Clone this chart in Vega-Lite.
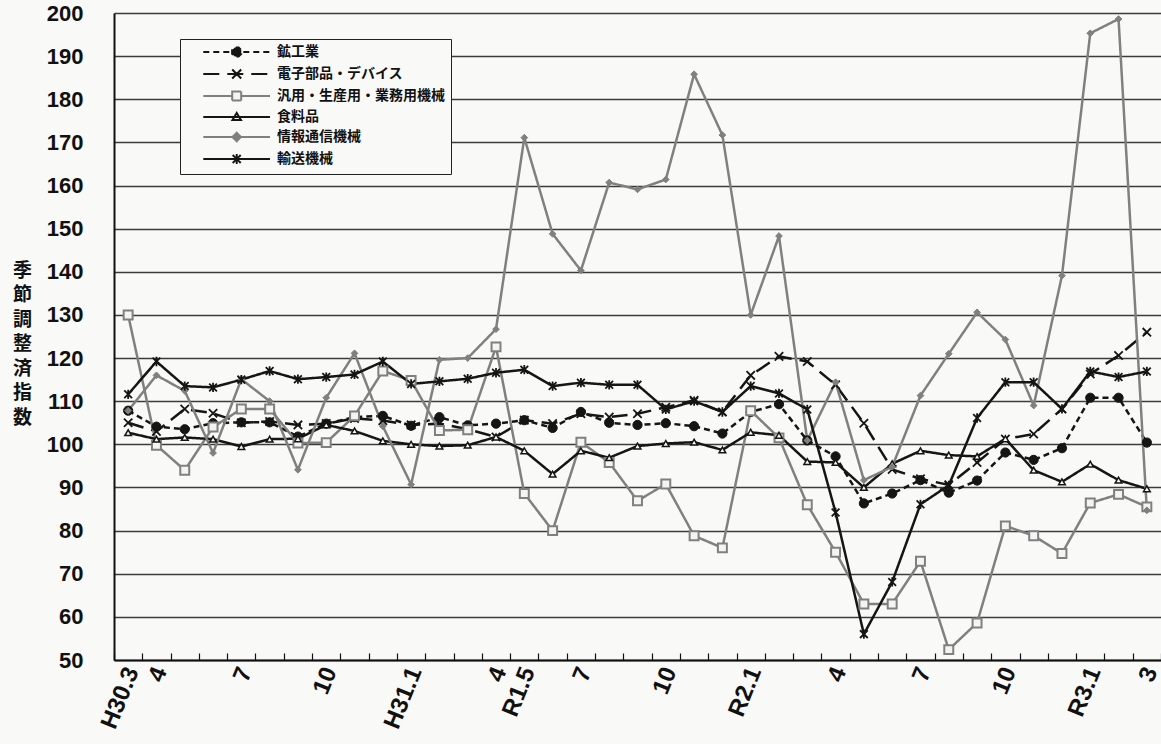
{
"$schema": "https://vega.github.io/schema/vega-lite/v6.json",
"width": 1047, "height": 647,
"autosize": {"type": "none"},
"padding": {"left": 114, "top": 13, "right": 0, "bottom": 84},
"background": "#f9f9f7",
"config": {"view": {"stroke": null}, "axis": {"labelFont": "Liberation Sans", "labelFontWeight": "bold", "labelColor": "#111"},
  "legend": {"title": null, "orient": "none", "legendX": 66, "legendY": 26, "direction": "vertical",
    "strokeColor": "#222", "fillColor": "#f9f9f7", "padding": 6, "cornerRadius": 0,
    "symbolSize": 100, "symbolStrokeWidth": 2, "symbolOpacity": 1, "symbolOffset": 0, "labelOffset": 77,
    "rowPadding": 4, "labelFont": "Noto Sans CJK JP", "labelFontSize": 14, "labelFontWeight": "bold",
    "labelColor": "#111", "labelLimit": 400}},
"datasets": {"d": [
{"s":"鉱工業","i":0,"v":107.8},{"s":"鉱工業","i":1,"v":104.1},{"s":"鉱工業","i":2,"v":103.5},{"s":"鉱工業","i":3,"v":104.9},{"s":"鉱工業","i":4,"v":105.1},{"s":"鉱工業","i":5,"v":105.1},{"s":"鉱工業","i":6,"v":101.8},{"s":"鉱工業","i":7,"v":104.8},{"s":"鉱工業","i":8,"v":106.3},{"s":"鉱工業","i":9,"v":106.6},{"s":"鉱工業","i":10,"v":104.3},{"s":"鉱工業","i":11,"v":106.3},{"s":"鉱工業","i":12,"v":104.4},{"s":"鉱工業","i":13,"v":104.8},{"s":"鉱工業","i":14,"v":105.6},{"s":"鉱工業","i":15,"v":103.8},{"s":"鉱工業","i":16,"v":107.5},{"s":"鉱工業","i":17,"v":105.0},{"s":"鉱工業","i":18,"v":104.5},{"s":"鉱工業","i":19,"v":104.9},{"s":"鉱工業","i":20,"v":104.2},{"s":"鉱工業","i":21,"v":102.5},{"s":"鉱工業","i":22,"v":107.5},{"s":"鉱工業","i":23,"v":109.3},{"s":"鉱工業","i":24,"v":100.9},{"s":"鉱工業","i":25,"v":97.2},{"s":"鉱工業","i":26,"v":86.3},{"s":"鉱工業","i":27,"v":88.6},{"s":"鉱工業","i":28,"v":91.7},{"s":"鉱工業","i":29,"v":88.8},{"s":"鉱工業","i":30,"v":91.6},{"s":"鉱工業","i":31,"v":98.1},{"s":"鉱工業","i":32,"v":96.4},{"s":"鉱工業","i":33,"v":99.1},{"s":"鉱工業","i":34,"v":110.8},{"s":"鉱工業","i":35,"v":110.8},{"s":"鉱工業","i":36,"v":100.4},
{"s":"電子部品・デバイス","i":0,"v":105.0},{"s":"電子部品・デバイス","i":1,"v":103.0},{"s":"電子部品・デバイス","i":2,"v":108.2},{"s":"電子部品・デバイス","i":3,"v":107.2},{"s":"電子部品・デバイス","i":4,"v":105.0},{"s":"電子部品・デバイス","i":5,"v":105.3},{"s":"電子部品・デバイス","i":6,"v":104.5},{"s":"電子部品・デバイス","i":7,"v":104.8},{"s":"電子部品・デバイス","i":8,"v":106.0},{"s":"電子部品・デバイス","i":9,"v":105.5},{"s":"電子部品・デバイス","i":10,"v":104.5},{"s":"電子部品・デバイス","i":11,"v":104.8},{"s":"電子部品・デバイス","i":12,"v":103.5},{"s":"電子部品・デバイス","i":13,"v":101.7},{"s":"電子部品・デバイス","i":14,"v":105.6},{"s":"電子部品・デバイス","i":15,"v":104.8},{"s":"電子部品・デバイス","i":16,"v":107.1},{"s":"電子部品・デバイス","i":17,"v":106.3},{"s":"電子部品・デバイス","i":18,"v":107.1},{"s":"電子部品・デバイス","i":19,"v":108.6},{"s":"電子部品・デバイス","i":20,"v":110.2},{"s":"電子部品・デバイス","i":21,"v":107.5},{"s":"電子部品・デバイス","i":22,"v":116.0},{"s":"電子部品・デバイス","i":23,"v":120.4},{"s":"電子部品・デバイス","i":24,"v":119.2},{"s":"電子部品・デバイス","i":25,"v":113.8},{"s":"電子部品・デバイス","i":26,"v":104.9},{"s":"電子部品・デバイス","i":27,"v":94.2},{"s":"電子部品・デバイス","i":28,"v":92.0},{"s":"電子部品・デバイス","i":29,"v":90.6},{"s":"電子部品・デバイス","i":30,"v":95.8},{"s":"電子部品・デバイス","i":31,"v":101.2},{"s":"電子部品・デバイス","i":32,"v":102.4},{"s":"電子部品・デバイス","i":33,"v":108.2},{"s":"電子部品・デバイス","i":34,"v":116.3},{"s":"電子部品・デバイス","i":35,"v":120.6},{"s":"電子部品・デバイス","i":36,"v":126.0},
{"s":"汎用・生産用・業務用機械","i":0,"v":130.0},{"s":"汎用・生産用・業務用機械","i":1,"v":99.8},{"s":"汎用・生産用・業務用機械","i":2,"v":94.0},{"s":"汎用・生産用・業務用機械","i":3,"v":104.0},{"s":"汎用・生産用・業務用機械","i":4,"v":108.2},{"s":"汎用・生産用・業務用機械","i":5,"v":108.2},{"s":"汎用・生産用・業務用機械","i":6,"v":100.3},{"s":"汎用・生産用・業務用機械","i":7,"v":100.4},{"s":"汎用・生産用・業務用機械","i":8,"v":106.6},{"s":"汎用・生産用・業務用機械","i":9,"v":117.0},{"s":"汎用・生産用・業務用機械","i":10,"v":114.8},{"s":"汎用・生産用・業務用機械","i":11,"v":103.2},{"s":"汎用・生産用・業務用機械","i":12,"v":103.4},{"s":"汎用・生産用・業務用機械","i":13,"v":122.6},{"s":"汎用・生産用・業務用機械","i":14,"v":88.6},{"s":"汎用・生産用・業務用機械","i":15,"v":80.0},{"s":"汎用・生産用・業務用機械","i":16,"v":100.5},{"s":"汎用・生産用・業務用機械","i":17,"v":95.8},{"s":"汎用・生産用・業務用機械","i":18,"v":86.9},{"s":"汎用・生産用・業務用機械","i":19,"v":90.8},{"s":"汎用・生産用・業務用機械","i":20,"v":78.8},{"s":"汎用・生産用・業務用機械","i":21,"v":76.0},{"s":"汎用・生産用・業務用機械","i":22,"v":107.8},{"s":"汎用・生産用・業務用機械","i":23,"v":101.5},{"s":"汎用・生産用・業務用機械","i":24,"v":86.0},{"s":"汎用・生産用・業務用機械","i":25,"v":75.0},{"s":"汎用・生産用・業務用機械","i":26,"v":63.0},{"s":"汎用・生産用・業務用機械","i":27,"v":63.0},{"s":"汎用・生産用・業務用機械","i":28,"v":72.9},{"s":"汎用・生産用・業務用機械","i":29,"v":52.4},{"s":"汎用・生産用・業務用機械","i":30,"v":58.6},{"s":"汎用・生産用・業務用機械","i":31,"v":81.1},{"s":"汎用・生産用・業務用機械","i":32,"v":78.8},{"s":"汎用・生産用・業務用機械","i":33,"v":74.7},{"s":"汎用・生産用・業務用機械","i":34,"v":86.4},{"s":"汎用・生産用・業務用機械","i":35,"v":88.4},{"s":"汎用・生産用・業務用機械","i":36,"v":85.5},
{"s":"食料品","i":0,"v":102.7},{"s":"食料品","i":1,"v":101.2},{"s":"食料品","i":2,"v":101.6},{"s":"食料品","i":3,"v":101.2},{"s":"食料品","i":4,"v":99.5},{"s":"食料品","i":5,"v":101.2},{"s":"食料品","i":6,"v":101.3},{"s":"食料品","i":7,"v":104.5},{"s":"食料品","i":8,"v":103.1},{"s":"食料品","i":9,"v":100.8},{"s":"食料品","i":10,"v":100.0},{"s":"食料品","i":11,"v":99.6},{"s":"食料品","i":12,"v":99.8},{"s":"食料品","i":13,"v":101.7},{"s":"食料品","i":14,"v":98.5},{"s":"食料品","i":15,"v":93.1},{"s":"食料品","i":16,"v":98.5},{"s":"食料品","i":17,"v":96.9},{"s":"食料品","i":18,"v":99.6},{"s":"食料品","i":19,"v":100.2},{"s":"食料品","i":20,"v":100.5},{"s":"食料品","i":21,"v":98.7},{"s":"食料品","i":22,"v":102.8},{"s":"食料品","i":23,"v":102.1},{"s":"食料品","i":24,"v":96.0},{"s":"食料品","i":25,"v":95.8},{"s":"食料品","i":26,"v":90.0},{"s":"食料品","i":27,"v":95.5},{"s":"食料品","i":28,"v":98.5},{"s":"食料品","i":29,"v":97.5},{"s":"食料品","i":30,"v":97.2},{"s":"食料品","i":31,"v":101.3},{"s":"食料品","i":32,"v":94.0},{"s":"食料品","i":33,"v":91.3},{"s":"食料品","i":34,"v":95.4},{"s":"食料品","i":35,"v":91.7},{"s":"食料品","i":36,"v":89.7},
{"s":"情報通信機械","i":0,"v":107.8},{"s":"情報通信機械","i":1,"v":116.0},{"s":"情報通信機械","i":2,"v":112.4},{"s":"情報通信機械","i":3,"v":98.0},{"s":"情報通信機械","i":4,"v":115.1},{"s":"情報通信機械","i":5,"v":110.0},{"s":"情報通信機械","i":6,"v":94.1},{"s":"情報通信機械","i":7,"v":110.8},{"s":"情報通信機械","i":8,"v":121.1},{"s":"情報通信機械","i":9,"v":104.2},{"s":"情報通信機械","i":10,"v":90.7},{"s":"情報通信機械","i":11,"v":119.6},{"s":"情報通信機械","i":12,"v":120.0},{"s":"情報通信機械","i":13,"v":126.7},{"s":"情報通信機械","i":14,"v":171.1},{"s":"情報通信機械","i":15,"v":148.8},{"s":"情報通信機械","i":16,"v":140.3},{"s":"情報通信機械","i":17,"v":160.7},{"s":"情報通信機械","i":18,"v":159.1},{"s":"情報通信機械","i":19,"v":161.4},{"s":"情報通信機械","i":20,"v":185.8},{"s":"情報通信機械","i":21,"v":171.7},{"s":"情報通信機械","i":22,"v":130.0},{"s":"情報通信機械","i":23,"v":148.3},{"s":"情報通信機械","i":24,"v":100.9},{"s":"情報通信機械","i":25,"v":114.4},{"s":"情報通信機械","i":26,"v":91.7},{"s":"情報通信機械","i":27,"v":94.8},{"s":"情報通信機械","i":28,"v":111.3},{"s":"情報通信機械","i":29,"v":121.0},{"s":"情報通信機械","i":30,"v":130.6},{"s":"情報通信機械","i":31,"v":124.3},{"s":"情報通信機械","i":32,"v":109.0},{"s":"情報通信機械","i":33,"v":139.1},{"s":"情報通信機械","i":34,"v":195.3},{"s":"情報通信機械","i":35,"v":198.6},{"s":"情報通信機械","i":36,"v":84.7},
{"s":"輸送機械","i":0,"v":111.6},{"s":"輸送機械","i":1,"v":119.2},{"s":"輸送機械","i":2,"v":113.5},{"s":"輸送機械","i":3,"v":113.2},{"s":"輸送機械","i":4,"v":115.0},{"s":"輸送機械","i":5,"v":117.0},{"s":"輸送機械","i":6,"v":115.1},{"s":"輸送機械","i":7,"v":115.6},{"s":"輸送機械","i":8,"v":116.2},{"s":"輸送機械","i":9,"v":119.2},{"s":"輸送機械","i":10,"v":114.0},{"s":"輸送機械","i":11,"v":114.6},{"s":"輸送機械","i":12,"v":115.2},{"s":"輸送機械","i":13,"v":116.6},{"s":"輸送機械","i":14,"v":117.3},{"s":"輸送機械","i":15,"v":113.5},{"s":"輸送機械","i":16,"v":114.3},{"s":"輸送機械","i":17,"v":113.8},{"s":"輸送機械","i":18,"v":113.8},{"s":"輸送機械","i":19,"v":108.1},{"s":"輸送機械","i":20,"v":110.0},{"s":"輸送機械","i":21,"v":107.5},{"s":"輸送機械","i":22,"v":113.5},{"s":"輸送機械","i":23,"v":111.8},{"s":"輸送機械","i":24,"v":108.1},{"s":"輸送機械","i":25,"v":84.2},{"s":"輸送機械","i":26,"v":56.0},{"s":"輸送機械","i":27,"v":68.1},{"s":"輸送機械","i":28,"v":86.1},{"s":"輸送機械","i":29,"v":90.5},{"s":"輸送機械","i":30,"v":106.1},{"s":"輸送機械","i":31,"v":114.4},{"s":"輸送機械","i":32,"v":114.4},{"s":"輸送機械","i":33,"v":108.2},{"s":"輸送機械","i":34,"v":116.9},{"s":"輸送機械","i":35,"v":115.6},{"s":"輸送機械","i":36,"v":116.9}
]},
"data": {"name": "d"},
"encoding": {
  "x": {"field": "i", "type": "quantitative",
    "scale": {"domain": [-0.5, 36.5], "nice": false, "zero": false},
    "axis": {"values": [-0.5,0.5,1.5,2.5,3.5,4.5,5.5,6.5,7.5,8.5,9.5,10.5,11.5,12.5,13.5,14.5,15.5,16.5,17.5,18.5,19.5,20.5,21.5,22.5,23.5,24.5,25.5,26.5,27.5,28.5,29.5,30.5,31.5,32.5,33.5,34.5,35.5,36.5],
      "labelExpr": "(['H30.3','4','','','7','','','10','','','H31.1','','','4','R1.5','','7','','','10','','','R2.1','','','4','','','7','','','10','','','R3.1','','3'][datum.value+0.5])||''",
      "grid": false, "domainColor": "#111", "domainWidth": 2, "zindex": 1,
      "ticks": true, "tickSize": -7, "tickColor": "#111", "tickWidth": 1.2, "title": null,
      "labelAngle": -68, "labelAlign": "right", "labelBaseline": "middle",
      "labelPadding": 15, "labelOffset": 18, "labelFontSize": 24,
      "labelOverlap": false, "labelFlush": false, "labelBound": false}},
  "y": {"field": "v", "type": "quantitative",
    "scale": {"domain": [50, 200], "nice": false, "zero": false},
    "axis": {"values": [50,60,70,80,90,100,110,120,130,140,150,160,170,180,190,200],
      "labelFontSize": 22, "labelPadding": 31, "ticks": false,
      "domainColor": "#111", "domainWidth": 2,
      "grid": true, "gridColor": "#3c3c3c", "gridWidth": 1.3,
      "title": ["季","節","調","整","済","指","数"],
      "titleAngle": 0, "titleAlign": "center", "titleBaseline": "middle",
      "titleX": -92, "titleY": 257, "titleFont": "Noto Sans CJK JP", "titleFontWeight": "bold",
      "titleFontSize": 19, "titleLineHeight": 24.5, "titleColor": "#111"}}
},
"layer": [
  {"mark": {"type": "line", "strokeWidth": 2.5},
   "encoding": {
     "stroke": {"field": "s", "type": "nominal", "title": null,
       "scale": {"domain": ["鉱工業","電子部品・デバイス","汎用・生産用・業務用機械","食料品","情報通信機械","輸送機械"],
                 "range": ["#151515","#151515","#808080","#151515","#808080","#151515"]}},
     "strokeDash": {"field": "s", "type": "nominal", "title": null,
       "scale": {"domain": ["鉱工業","電子部品・デバイス","汎用・生産用・業務用機械","食料品","情報通信機械","輸送機械"],
                 "range": [[6,4],[16,8],[1,0],[1,0],[1,0],[1,0]]}}
   }},
  {"transform": [{"filter": {"field": "i", "equal": 0}}],
   "mark": {"type": "point", "opacity": 0, "filled": false},
   "encoding": {
     "shape": {"field": "s", "type": "nominal", "title": null,
       "scale": {"domain": ["鉱工業","電子部品・デバイス","汎用・生産用・業務用機械","食料品","情報通信機械","輸送機械"],
                 "range": ["M2.06,0L15.4,0M9.66,0.38L9.12,0.92L8.36,0.92L7.82,0.38L7.82,-0.38L8.36,-0.92L9.12,-0.92L9.66,-0.38Z",
                           "M7.84,-0.9L9.64,0.9M7.84,0.9L9.64,-0.9M2.06,0L15.4,0",
                           "M2.06,0L7.84,0M9.64,0L15.4,0M7.84,-0.9L9.64,-0.9L9.64,0.9L7.84,0.9Z",
                           "M2.06,0L15.4,0M8.74,-0.8L9.59,0.6L7.89,0.6Z",
                           "M2.06,0L15.4,0M8.74,-0.85L9.59,0L8.74,0.85L7.89,0Z",
                           "M2.06,0L15.4,0M7.94,-0.8L9.54,0.8M7.94,0.8L9.54,-0.8M8.74,-1L8.74,1"]}},
     "stroke": {"field": "s", "type": "nominal", "title": null},
     "fill": {"field": "s", "type": "nominal", "title": null,
       "scale": {"domain": ["鉱工業","電子部品・デバイス","汎用・生産用・業務用機械","食料品","情報通信機械","輸送機械"],
                 "range": ["#151515","transparent","#f4f4f4","#f9f9f7","#808080","transparent"]}},
     "strokeDash": {"field": "s", "type": "nominal", "title": null}
   }},
  {"transform": [{"filter": {"field": "s", "equal": "鉱工業"}}],
   "mark": {"type": "point", "shape": "circle", "size": 85, "filled": true, "fill": "#151515", "stroke": "#151515", "strokeWidth": 1, "opacity": 1}},
  {"transform": [{"filter": {"field": "s", "equal": "電子部品・デバイス"}}],
   "mark": {"type": "point", "shape": "M-1,-1L1,1M-1,1L1,-1", "size": 70, "filled": false, "stroke": "#151515", "strokeWidth": 1.8, "opacity": 1}},
  {"transform": [{"filter": {"field": "s", "equal": "汎用・生産用・業務用機械"}}],
   "mark": {"type": "point", "shape": "square", "size": 80, "filled": true, "fill": "#f4f4f4", "stroke": "#808080", "strokeWidth": 2, "opacity": 1}},
  {"transform": [{"filter": {"field": "s", "equal": "食料品"}}],
   "mark": {"type": "point", "shape": "triangle-up", "size": 45, "filled": true, "fill": "#f9f9f7", "stroke": "#151515", "strokeWidth": 1.5, "opacity": 1}},
  {"transform": [{"filter": {"field": "s", "equal": "情報通信機械"}}],
   "mark": {"type": "point", "shape": "diamond", "size": 45, "filled": true, "fill": "#808080", "stroke": "#808080", "strokeWidth": 1, "opacity": 1}},
  {"transform": [{"filter": {"field": "s", "equal": "輸送機械"}}],
   "mark": {"type": "point", "shape": "M-1,-1L1,1M-1,1L1,-1M0,-1.2L0,1.2", "size": 60, "filled": false, "stroke": "#151515", "strokeWidth": 1.8, "opacity": 1}}
]
}
